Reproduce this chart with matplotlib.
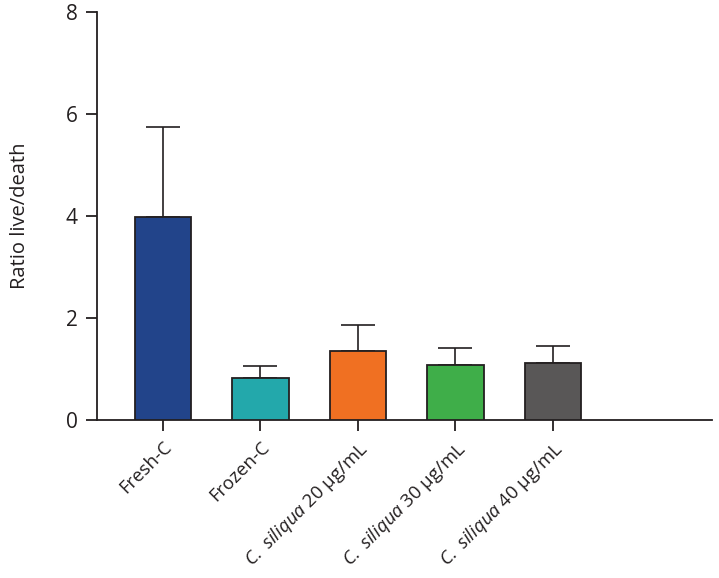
import matplotlib
matplotlib.use("Agg")
from matplotlib import pyplot as plt
import numpy as np

# Data
groups = ["Fresh-C", "Frozen-C",
          r"$\mathit{C.\ siliqua}$ 20 μg/mL",
          r"$\mathit{C.\ siliqua}$ 30 μg/mL",
          r"$\mathit{C.\ siliqua}$ 40 μg/mL"]
ratios = [3.98, 0.82, 1.35, 1.08, 1.12]
err_up = [1.77, 0.24, 0.51, 0.33, 0.33]
colors = ["#22448a", "#23a8ab", "#f07022", "#3fae49", "#595757"]

ink = "#231f20"
plt.rcParams["font.family"] = ["Open Sans", "DejaVu Sans"]
plt.rcParams["mathtext.fontset"] = "custom"
plt.rcParams["mathtext.it"] = "Open Sans:italic"
plt.rcParams["mathtext.rm"] = "Open Sans"

fig = plt.figure(figsize=(7.19, 5.78), dpi=100)
ax = fig.add_axes([0.135, 0.273, 0.855, 0.706])

x = np.arange(len(groups))
ax.bar(x, ratios, width=0.58, color=colors, edgecolor=ink, linewidth=1.3, zorder=3)
ax.errorbar(x, ratios, yerr=[np.zeros(len(x)), err_up], fmt="none",
            ecolor=ink, elinewidth=1.2, capsize=12.5, capthick=1.2, zorder=2)

ax.set_xlim(-0.674, 5.63)
ax.set_ylim(0, 8)
ax.set_yticks([0, 2, 4, 6, 8])
ax.set_xticks(x)
ax.set_xticklabels(groups, rotation=45, ha="right", rotation_mode="anchor")

for s in ["top", "right"]:
    ax.spines[s].set_visible(False)
for s in ["left", "bottom"]:
    ax.spines[s].set_color(ink)
    ax.spines[s].set_linewidth(1.3)

ax.tick_params(axis="both", direction="out", length=8, width=1.3, color=ink,
               labelcolor=ink, labelsize=13.3)
ax.tick_params(axis="x", pad=5)
ax.tick_params(axis="y", labelsize=15, pad=6)

ax.set_ylabel("Ratio live/death", fontsize=14.5, color=ink, labelpad=26)

fig.savefig("out.png", dpi=100)
